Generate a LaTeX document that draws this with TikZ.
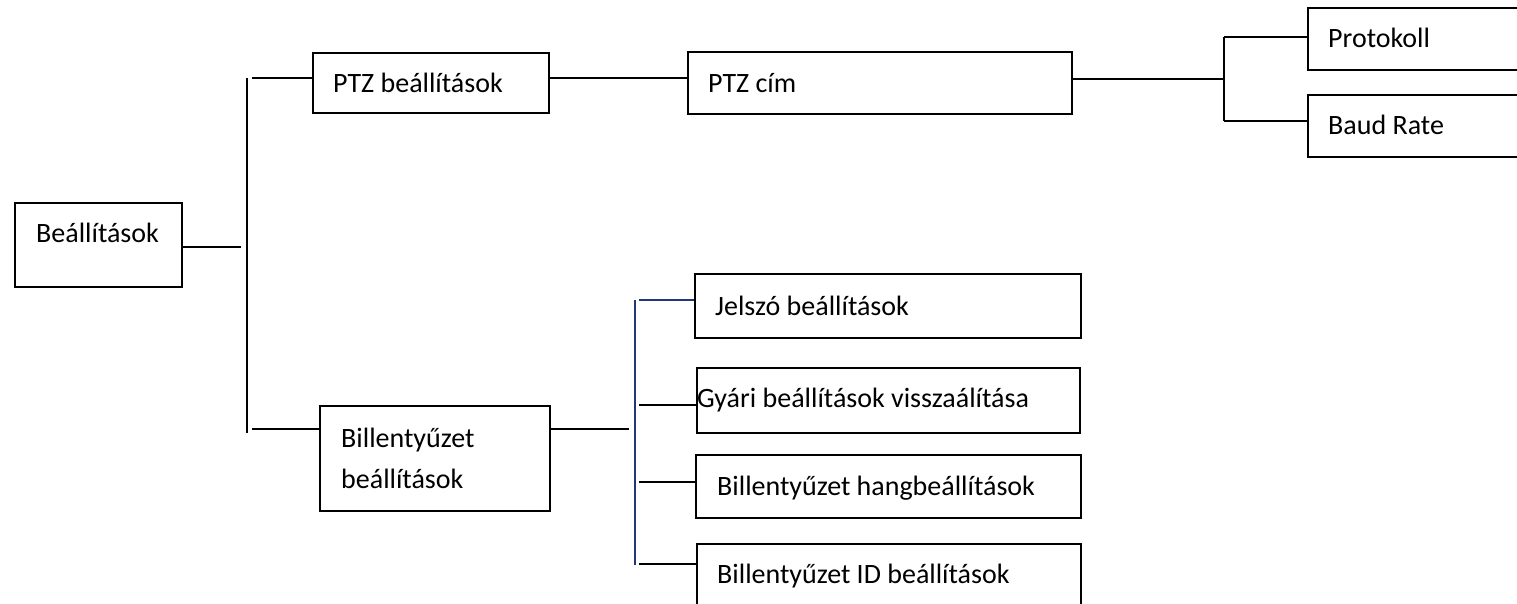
\documentclass[tikz,border=0pt]{standalone}
\usepackage{fontspec}
\setmainfont{Carlito}
\definecolor{navyline}{RGB}{32,56,120}
\begin{document}
\begin{tikzpicture}[x=1pt,y=-1pt,
  box/.style={draw=black, line width=2pt, inner sep=0pt, anchor=north west},
  txt/.style={anchor=base west, inner sep=0pt, font=\fontsize{28}{34}\selectfont},
  conn/.style={draw=black, line width=2pt},
  bconn/.style={draw=navyline, line width=1.6pt}]
\useasboundingbox (0,0) rectangle (1517,604);
\clip (0,0) rectangle (1517,604);

% boxes
\node[box, minimum width=167pt, minimum height=84pt] (root) at (14,202) {};
\node[box, minimum width=236pt, minimum height=60pt] (ptz) at (312,52) {};
\node[box, minimum width=384pt, minimum height=62pt] (cim) at (687,51) {};
\node[box, minimum width=260pt, minimum height=62pt] (prot) at (1307,7) {};
\node[box, minimum width=260pt, minimum height=62pt] (baud) at (1307,94) {};
\node[box, minimum width=230pt, minimum height=105pt] (bill) at (319,405) {};
\node[box, minimum width=386pt, minimum height=64pt] (jel) at (694,273) {};
\node[box, minimum width=383pt, minimum height=65pt] (gyari) at (696,367) {};
\node[box, minimum width=385pt, minimum height=63pt] (hang) at (695,454) {};
\node[box, minimum width=384pt, minimum height=70pt] (idb) at (696,543) {};

% texts
\node[txt] (troot) at ([shift={(22pt,-40pt)}]root.north west) {Beállítások};
\node[txt] (tptz) at ([shift={(21pt,-41pt)}]ptz.north west) {PTZ beállítások};
\node[txt] (tcim) at ([shift={(21pt,-42pt)}]cim.north west) {PTZ cím};
\node[txt] (tprot) at ([shift={(21pt,-41pt)}]prot.north west) {Protokoll};
\node[txt] (tbaud) at ([shift={(21pt,-41pt)}]baud.north west) {Baud Rate};
\node[txt] (tbill1) at ([shift={(22pt,-42pt)}]bill.north west) {Billentyűzet};
\node[txt] (tbill2) at ([shift={(22pt,-83pt)}]bill.north west) {beállítások};
\node[txt] (tjel) at ([shift={(21pt,-42pt)}]jel.north west) {Jelszó beállítások};
\node[txt] (tgyari) at ([shift={(1pt,-40pt)}]gyari.north west) {Gyári beállítások visszaálítása};
\node[txt] (thang) at ([shift={(22pt,-41pt)}]hang.north west) {Billentyűzet hangbeállítások};
\node[txt] (tid) at ([shift={(21pt,-40pt)}]idb.north west) {Billentyűzet ID beállítások};

% junction coordinates
\coordinate (rj) at (241,247);
\coordinate (v1t) at (247,78);
\coordinate (v1b) at (247,433);
\coordinate (p1) at (252,78);
\coordinate (b1) at (252,429);
\coordinate (c1) at (687,78);
\coordinate (cj) at (1224,79);
\coordinate (v2t) at (1224,37);
\coordinate (v2b) at (1224,121);
\coordinate (bj) at (629,429);
\coordinate (v3t) at (635,300);
\coordinate (v3b) at (635,565);
\coordinate (j1) at (639,300);
\coordinate (j2) at (639,405);
\coordinate (j3) at (639,482);
\coordinate (j4) at (639,564);

% connectors
\draw[conn] (root.east |- rj) -- (rj);
\draw[conn] (v1t) -- (v1b);
\draw[conn] (p1) -- (ptz.west |- p1);
\draw[conn] (b1) -- (bill.west |- b1);
\draw[conn] (ptz.east |- c1) -- (cim.west |- c1);
\draw[conn] (cim.east |- cj) -- (cj);
\draw[conn] (v2t) -- (v2b);
\draw[conn] (v2t) -- (prot.west |- v2t);
\draw[conn] (v2b) -- (baud.west |- v2b);
\draw[conn] (bill.east |- bj) -- (bj);
\draw[bconn] (v3t) -- (v3b);
\draw[bconn] (j1) -- (jel.west |- j1);
\draw[conn] (j2) -- (gyari.west |- j2);
\draw[conn] (j3) -- (hang.west |- j3);
\draw[conn] (j4) -- (idb.west |- j4);
\end{tikzpicture}
\end{document}
